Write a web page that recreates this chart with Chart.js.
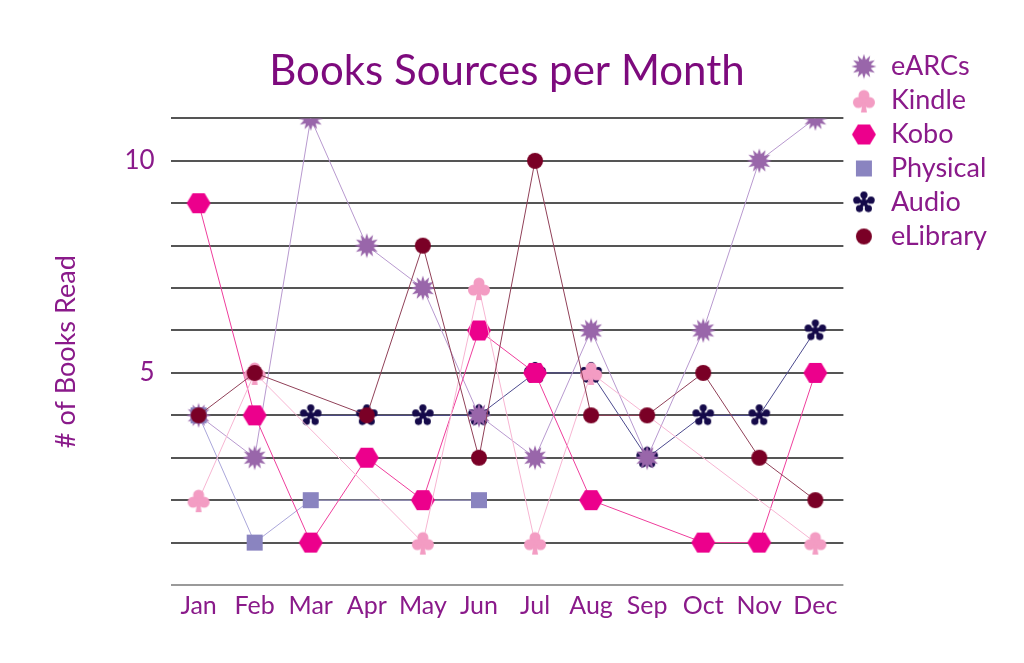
<!DOCTYPE html>
<html>
<head>
<meta charset="utf-8">
<script src="https://cdn.jsdelivr.net/npm/chart.js@4/dist/chart.umd.min.js"></script>
<style>
html, body { margin: 0; padding: 0; background: #fff; }
#wrap { width: 1024px; height: 663px; }
</style>
</head>
<body>
<div id="wrap"><canvas id="booksChart"></canvas></div>
<script>
// data
var months = ['Jan', 'Feb', 'Mar', 'Apr', 'May', 'Jun', 'Jul', 'Aug', 'Sep', 'Oct', 'Nov', 'Dec'];
var seriesNames = ['eARCs', 'Kindle', 'Kobo', 'Physical', 'Audio', 'eLibrary'];
var earcs    = [4, 3, 11, 8, 7, 4, 3, 6, 3, 6, 10, 11];
var kindle   = [2, 5, null, null, 1, 7, 1, 5, null, null, null, 1];
var kobo     = [9, 4, 1, 3, 2, 6, 5, 2, null, 1, 1, 5];
var physical = [4, 1, 2, null, null, 2, null, null, null, null, null, null];
var audio    = [null, null, 4, 4, 4, 4, 5, 5, 3, 4, 4, 6];
var elibrary = [4, 5, null, 4, 8, 3, 10, 4, 4, 5, 3, 2];
var yTickLabels = [5, 10];

var purple = '#8a1a8a';

// small canvases used as point styles
function makeMarker(w, h, draw) {
	var c = document.createElement('canvas');
	c.width = w;
	c.height = h;
	var g = c.getContext('2d');
	draw(g, w / 2, h / 2);
	return c;
}

var starMark = makeMarker(26, 26, function(g, cx, cy) {
	g.fillStyle = '#9966aa';
	g.beginPath();
	var n = 12;
	for (var i = 0; i < n * 2; i++) {
		var r = i % 2 ? 7 : 12.5;
		var a = i * Math.PI / n - Math.PI / 2;
		g.lineTo(cx + r * Math.cos(a), cy + r * Math.sin(a));
	}
	g.closePath();
	g.fill();
});

var clubMark = makeMarker(26, 26, function(g, cx, cy) {
	g.fillStyle = '#f39cc3';
	g.beginPath(); g.arc(cx, cy - 5, 5.5, 0, Math.PI * 2); g.fill();
	g.beginPath(); g.arc(cx - 5.5, cy + 2, 5.5, 0, Math.PI * 2); g.fill();
	g.beginPath(); g.arc(cx + 5.5, cy + 2, 5.5, 0, Math.PI * 2); g.fill();
	g.beginPath();
	g.moveTo(cx - 1, cy);
	g.lineTo(cx + 1, cy);
	g.lineTo(cx + 3, cy + 12);
	g.lineTo(cx - 3, cy + 12);
	g.closePath();
	g.fill();
});

var hexMark = makeMarker(26, 24, function(g, cx, cy) {
	g.fillStyle = '#ec008c';
	g.beginPath();
	g.moveTo(cx - 12, cy);
	g.lineTo(cx - 6, cy - 10);
	g.lineTo(cx + 6, cy - 10);
	g.lineTo(cx + 12, cy);
	g.lineTo(cx + 6, cy + 10);
	g.lineTo(cx - 6, cy + 10);
	g.closePath();
	g.fill();
});

var squareMark = makeMarker(18, 18, function(g, cx, cy) {
	g.fillStyle = '#8a84c0';
	g.fillRect(cx - 8, cy - 8, 16, 16);
});

var asteriskMark = makeMarker(26, 26, function(g, cx, cy) {
	g.strokeStyle = '#150a4a';
	g.fillStyle = '#150a4a';
	g.lineCap = 'round';
	for (var i = 0; i < 5; i++) {
		var a = -Math.PI / 2 + i * 2 * Math.PI / 5;
		g.lineWidth = 3.5;
		g.beginPath();
		g.moveTo(cx, cy);
		g.lineTo(cx + 9 * Math.cos(a), cy + 9 * Math.sin(a));
		g.stroke();
		g.beginPath();
		g.arc(cx + 7.5 * Math.cos(a), cy + 7.5 * Math.sin(a), 3.6, 0, Math.PI * 2);
		g.fill();
	}
});

var circleMark = makeMarker(18, 18, function(g, cx, cy) {
	g.fillStyle = '#7a0026';
	g.beginPath();
	g.arc(cx, cy, 8, 0, Math.PI * 2);
	g.fill();
});

function series(i, values, lineColor, marker, order) {
	return {
		label: seriesNames[i],
		data: values,
		borderColor: lineColor,
		backgroundColor: lineColor,
		borderWidth: 1,
		pointStyle: marker,
		pointRadius: 10,
		pointHoverRadius: 10,
		spanGaps: true,
		tension: 0,
		order: order
	};
}

const ctx = document.getElementById('booksChart');
new Chart(ctx, {
	type: 'line',
	data: {
		labels: months,
		datasets: [
			series(0, earcs, '#b899cf', starMark, 4),
			series(1, kindle, '#f7b5d2', clubMark, 1),
			series(2, kobo, '#ef3d9c', hexMark, 2),
			series(3, physical, '#aaa6da', squareMark, 3),
			series(4, audio, '#4c4a8e', asteriskMark, 5),
			series(5, elibrary, '#904058', circleMark, 0)
		]
	},
	options: {
		responsive: true,
		maintainAspectRatio: false,
		animation: false,
		layout: {
			padding: { left: 50, right: 27, top: 46, bottom: 44 }
		},
		plugins: {
			title: {
				display: true,
				text: 'Books Sources per Month',
				color: '#7d0a7d',
				fullSize: false,
				font: { family: 'Lato', size: 42, weight: 'normal' },
				padding: { top: 0, bottom: 22 }
			},
			legend: {
				position: 'right',
				align: 'start',
				fullSize: true,
				labels: {
					usePointStyle: true,
					color: purple,
					font: { family: 'Lato', size: 27 },
					padding: 7,
					sort: function(a, b) { return a.datasetIndex - b.datasetIndex; }
				}
			},
			tooltip: { enabled: false }
		},
		scales: {
			x: {
				offset: true,
				grid: { display: false },
				border: { display: false },
				ticks: {
					color: purple,
					font: { family: 'Lato', size: 25 },
					padding: -2,
					maxRotation: 0,
					autoSkip: false
				}
			},
			y: {
				min: 0,
				max: 11,
				border: { display: false },
				grid: {
					drawTicks: false,
					lineWidth: 2,
					color: function(c) { return c.tick && c.tick.value === 0 ? '#9a9a9a' : '#555555'; }
				},
				ticks: {
					stepSize: 1,
					color: purple,
					font: { family: 'Lato', size: 26 },
					padding: 16,
					callback: function(v) { return yTickLabels.indexOf(v) >= 0 ? String(v) : ''; }
				},
				title: {
					display: true,
					text: '# of Books Read',
					color: purple,
					font: { family: 'Lato', size: 27 },
					padding: { top: 0, bottom: 26 }
				}
			}
		}
	}
});
</script>
</body>
</html>
